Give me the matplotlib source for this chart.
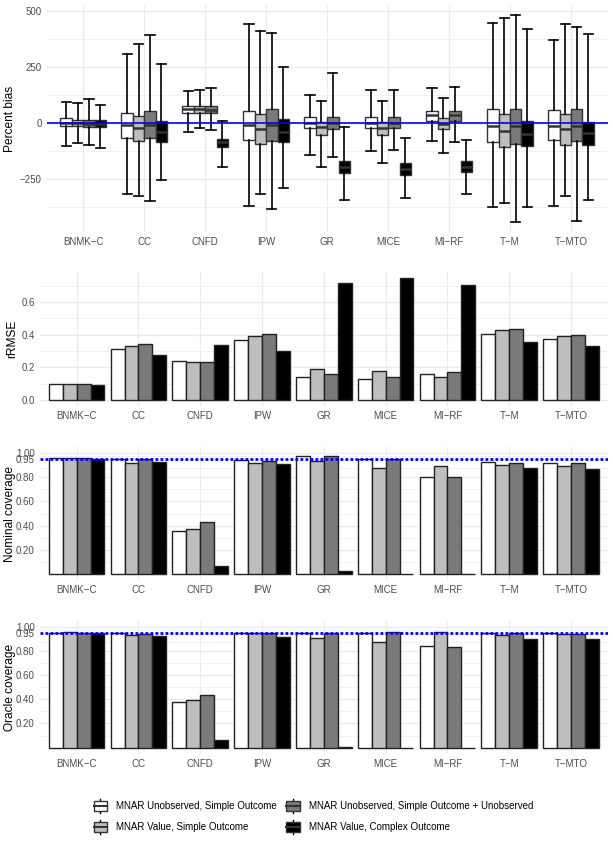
import matplotlib
matplotlib.use("Agg")
import matplotlib.pyplot as plt
import numpy as np
from matplotlib.patches import Patch, Rectangle
from matplotlib.lines import Line2D
from matplotlib.legend_handler import HandlerBase

plt.rcParams['font.family'] = ['Liberation Sans', 'DejaVu Sans']

# categories / scenarios
methods = ['BNMK\u2212C', 'CC', 'CNFD', 'IPW', 'GR', 'MICE', 'MI\u2212RF', 'T\u2212M', 'T\u2212MTO']
scenarios = ['MNAR Unobserved, Simple Outcome',
             'MNAR Value, Simple Outcome',
             'MNAR Unobserved, Simple Outcome + Unobserved',
             'MNAR Value, Complex Outcome']
fills = ['#FFFFFF', '#BEBEBE', '#7A7A7A', '#000000']

# percent bias boxplot stats: whisker low, q1, median, q3, whisker high
bias_lo = [[-105, -320, -40, -372, -143, -124, -81, -378, -372],
           [-91, -330, -22, -320, -200, -182, -133, -360, -327],
           [-100, -351, -33, -384, -151, -122, -87, -443, -440],
           [-113, -255, -196, -294, -348, -339, -321, -375, -344]]
bias_q1 = [[-15, -66, 43, -76, -24, -21, 10, -87, -78],
           [-15, -82, 45, -95, -54, -54, -28, -106, -100],
           [-20, -67, 43, -82, -28, -24, 10, -93, -82],
           [-18, -84, -106, -88, -225, -233, -220, -104, -99]]
bias_med = [[0, -10, 63, -10, 0, 0, 34, -15, -12],
            [0, -24, 60, -28, -19, -22, -5, -36, -28],
            [-3, -10, 58, -10, 0, 0, 34, -15, -12],
            [-3, -39, -88, -40, -199, -206, -196, -51, -46]]
bias_q3 = [[20, 46, 76, 55, 25, 24, 52, 61, 57],
           [15, 31, 75, 39, 6, 6, 21, 40, 39],
           [15, 54, 75, 61, 28, 25, 55, 63, 61],
           [15, 10, -73, 18, -169, -181, -172, 8, 6]]
bias_hi = [[95, 309, 142, 445, 127, 149, 155, 449, 370],
           [88, 355, 149, 413, 100, 100, 112, 469, 445],
           [106, 393, 154, 402, 225, 149, 161, 482, 429],
           [79, 263, 10, 252, -19, -67, -78, 421, 400]]

rrmse = [[0.096, 0.314, 0.239, 0.365, 0.143, 0.127, 0.161, 0.402, 0.376],
         [0.096, 0.329, 0.235, 0.390, 0.188, 0.178, 0.139, 0.427, 0.392],
         [0.100, 0.341, 0.235, 0.402, 0.159, 0.143, 0.169, 0.435, 0.396],
         [0.092, 0.278, 0.339, 0.302, 0.718, 0.745, 0.704, 0.357, 0.329]]

nominal = [[0.953, 0.948, 0.357, 0.937, 0.973, 0.948, 0.802, 0.923, 0.918],
           [0.959, 0.918, 0.371, 0.915, 0.929, 0.874, 0.890, 0.896, 0.893],
           [0.960, 0.948, 0.434, 0.934, 0.973, 0.948, 0.800, 0.918, 0.912],
           [0.950, 0.920, 0.066, 0.907, 0.027, 0.003, 0.000, 0.874, 0.865]]

oracle = [[0.950, 0.950, 0.375, 0.945, 0.945, 0.945, 0.837, 0.945, 0.945],
          [0.959, 0.928, 0.397, 0.945, 0.909, 0.876, 0.953, 0.934, 0.937],
          [0.950, 0.942, 0.438, 0.945, 0.945, 0.953, 0.829, 0.945, 0.942],
          [0.950, 0.926, 0.061, 0.917, 0.006, 0.000, 0.000, 0.898, 0.900]]

cov_ticks = [0.20, 0.40, 0.60, 0.80, 0.95, 1.00]
cov_labels = ['0.20', '0.40', '0.60', '0.80', '0.95', '1.00']

GRID = '#EBEBEB'
TICKC = '#4D4D4D'
x = np.arange(len(methods))


def style(ax):
    for s in ax.spines.values():
        s.set_visible(False)
    ax.set_xticks(x)
    ax.set_xticklabels(methods)
    ax.set_xlim(-0.6, len(methods) - 0.4)
    ax.tick_params(length=0, labelsize=7, labelcolor=TICKC)
    ax.tick_params(axis='x', pad=3.5)
    ax.tick_params(axis='y', pad=3.5)
    ax.grid(True, which='major', color=GRID, lw=0.9)
    ax.grid(True, which='minor', axis='y', color=GRID, lw=0.5)
    ax.set_axisbelow(True)


fig = plt.figure(figsize=(6.13, 8.44), dpi=100)

# ---- percent bias
ax1 = fig.add_axes([0.0762, 0.7251, 0.915, 0.269])
bw = 0.75 / 4
for k in range(4):
    stats = []
    for i in range(len(methods)):
        stats.append(dict(whislo=bias_lo[k][i], q1=bias_q1[k][i], med=bias_med[k][i],
                          q3=bias_q3[k][i], whishi=bias_hi[k][i], fliers=[]))
    pos = x - 0.375 + bw * (k + 0.5)
    ax1.bxp(stats, positions=pos, widths=bw, capwidths=bw * 0.8, patch_artist=True,
            showfliers=False, manage_ticks=False,
            boxprops=dict(facecolor=fills[k], edgecolor='#333333', lw=1.0),
            medianprops=dict(color='#333333', lw=1.8),
            whiskerprops=dict(color='black', lw=1.2),
            capprops=dict(color='black', lw=1.2))
lo = min(min(r) for r in bias_lo)
hi = max(max(r) for r in bias_hi)
pad = 0.05 * (hi - lo)
ax1.set_ylim(lo - pad, hi + pad)
ax1.set_yticks([-250, 0, 250, 500])
ax1.set_yticklabels(['\u2212250', '0', '250', '500'])
ax1.set_yticks([-375, -125, 125, 375], minor=True)
ax1.axhline(0, color='blue', lw=1.2, zorder=5)
style(ax1)
ax1.tick_params(which='minor', length=0)
fig.text(0.016, 0.7251 + 0.269 / 2, 'Percent bias', rotation=90, va='center', ha='center', fontsize=8.6)

# ---- bar panels
bar_w = 0.9 / 4


def bars(ax, data):
    for k in range(4):
        ax.bar(x - 0.45 + bar_w * (k + 0.5), data[k], width=bar_w, color=fills[k],
               edgecolor='#222222', lw=1.0)


ax2 = fig.add_axes([0.0646, 0.5188, 0.9274, 0.1585])
bars(ax2, rrmse)
top = max(max(r) for r in rrmse)
ax2.set_ylim(-0.05 * top, top * 1.05)
ax2.set_yticks([0.0, 0.2, 0.4, 0.6])
ax2.set_yticklabels(['0.0', '0.2', '0.4', '0.6'])
ax2.set_yticks([0.1, 0.3, 0.5, 0.7], minor=True)
style(ax2)
ax2.tick_params(which='minor', length=0)
fig.text(0.02, 0.5188 + 0.1585 / 2, 'rRMSE', rotation=90, va='center', ha='center', fontsize=8.6)

cov_axes = [([0.0646, 0.3123, 0.9274, 0.1585], nominal, 'Nominal coverage'),
            ([0.0646, 0.1070, 0.9274, 0.1576], oracle, 'Oracle coverage')]
for rect, data, lab in cov_axes:
    ax = fig.add_axes(rect)
    bars(ax, data)
    ax.set_ylim(-0.05, 1.05)
    ax.set_yticks(cov_ticks)
    ax.set_yticklabels(cov_labels)
    ax.set_yticks([0.1, 0.3, 0.5, 0.7, 0.875, 0.975], minor=True)
    ax.axhline(0.95, color='blue', lw=2.0, linestyle=(0, (1, 0.8)), zorder=5)
    style(ax)
    ax.tick_params(which='minor', length=0)
    fig.text(0.016, rect[1] + rect[3] / 2, lab, rotation=90, va='center', ha='center', fontsize=8.6)


# ---- legend with boxplot glyphs
class BoxHandler(HandlerBase):
    def create_artists(self, legend, orig_handle, xdescent, ydescent, width, height, fontsize, trans):
        fc = orig_handle.get_facecolor()
        cx = width / 2 - xdescent
        w = width * 0.85
        y0 = -ydescent
        whisk = Line2D([cx, cx], [y0, y0 + height], color='black', lw=1.0, transform=trans)
        box = Rectangle((cx - w / 2, y0 + height * 0.17), w, height * 0.66,
                        facecolor=fc, edgecolor='#333333', lw=1.0, transform=trans)
        med = Line2D([cx - w / 2, cx + w / 2], [y0 + height / 2] * 2, color='#333333',
                     lw=1.5, transform=trans)
        return [whisk, box, med]


handles = [Patch(facecolor=c) for c in fills]
fig.legend(handles, scenarios, loc='center', bbox_to_anchor=(0.51, 0.0326), ncol=2,
           frameon=False, fontsize=7, handler_map={Patch: BoxHandler()},
           handlelength=1.6, handleheight=1.8, handletextpad=0.8,
           columnspacing=0.9, labelspacing=0.75)

fig.savefig('out.png', dpi=100)
